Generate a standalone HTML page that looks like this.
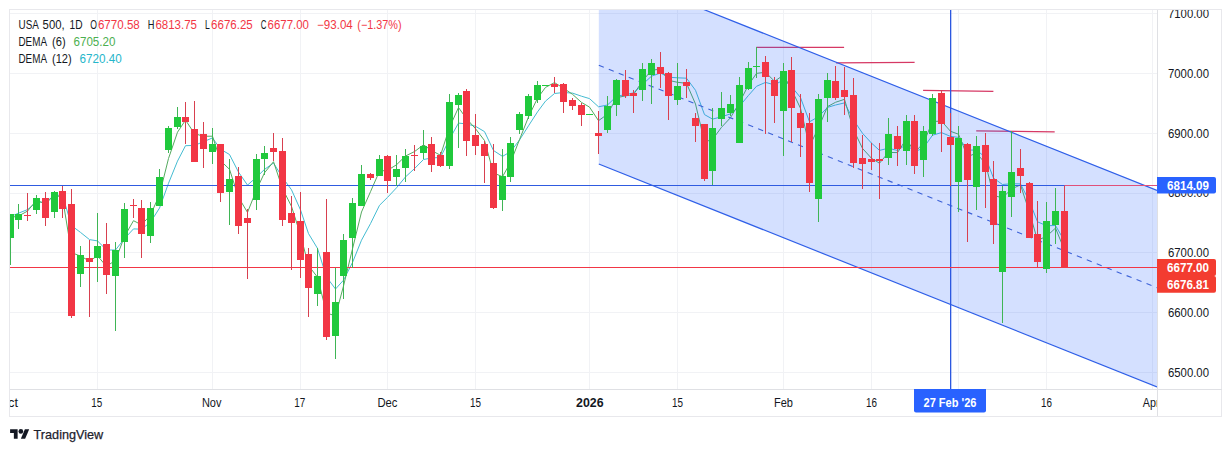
<!DOCTYPE html>
<html><head><meta charset="utf-8"><title>USA 500 chart</title>
<style>html,body{margin:0;padding:0;background:#fff;}body{width:1231px;height:452px;overflow:hidden;}svg{display:block;}text{font-family:"Liberation Sans",sans-serif;}</style></head><body>
<svg width="1231" height="452" viewBox="0 0 1231 452">
<rect x="0" y="0" width="1231" height="452" fill="#ffffff"/>
<defs><clipPath id="pane"><rect x="10" y="10" width="1147" height="379"/></clipPath><clipPath id="paxis"><rect x="1157" y="10" width="64" height="379"/></clipPath><clipPath id="taxis"><rect x="10" y="389" width="1147" height="27"/></clipPath></defs>
<g shape-rendering="crispEdges">
<rect x="10" y="13" width="1147" height="1" fill="#f1f2f5"/>
<rect x="10" y="73" width="1147" height="1" fill="#f1f2f5"/>
<rect x="10" y="133" width="1147" height="1" fill="#f1f2f5"/>
<rect x="10" y="193" width="1147" height="1" fill="#f1f2f5"/>
<rect x="10" y="252" width="1147" height="1" fill="#f1f2f5"/>
<rect x="10" y="312" width="1147" height="1" fill="#f1f2f5"/>
<rect x="10" y="372" width="1147" height="1" fill="#f1f2f5"/>
<rect x="97" y="10" width="1" height="379" fill="#f1f2f5"/>
<rect x="212" y="10" width="1" height="379" fill="#f1f2f5"/>
<rect x="300" y="10" width="1" height="379" fill="#f1f2f5"/>
<rect x="387" y="10" width="1" height="379" fill="#f1f2f5"/>
<rect x="475" y="10" width="1" height="379" fill="#f1f2f5"/>
<rect x="589" y="10" width="1" height="379" fill="#f1f2f5"/>
<rect x="677" y="10" width="1" height="379" fill="#f1f2f5"/>
<rect x="783" y="10" width="1" height="379" fill="#f1f2f5"/>
<rect x="871" y="10" width="1" height="379" fill="#f1f2f5"/>
<rect x="958" y="10" width="1" height="379" fill="#f1f2f5"/>
<rect x="1046" y="10" width="1" height="379" fill="#f1f2f5"/>
<rect x="1152" y="10" width="1" height="379" fill="#f1f2f5"/>
</g>
<g clip-path="url(#pane)">
<line x1="756.3" y1="47.4" x2="844.1" y2="47.4" stroke="#d63864" stroke-width="1.3" />
<line x1="836" y1="62.8" x2="914.6" y2="62.3" stroke="#d63864" stroke-width="1.3" />
<line x1="923.1" y1="90.3" x2="993.4" y2="91.3" stroke="#d63864" stroke-width="1.3" />
<line x1="976.2" y1="130.8" x2="1054.7" y2="131.8" stroke="#d63864" stroke-width="1.3" />
<polyline points="10.5,216.5 18.5,213.2 27.5,209.6 36.5,202.1 45.5,202.2 54.5,195.4 62.5,195.1 71.5,225.6 80.5,232.4 89.5,239.6 97.5,240.9 106.5,250.0 115.5,250.0 124.5,238.6 133.5,228.9 141.5,229.2 150.5,222.2 159.5,208.1 168.5,183.3 177.5,161.1 185.5,145.7 194.5,145.4 203.5,141.7 212.5,137.9 220.5,149.2 229.5,154.5 238.5,172.1 247.5,185.1 256.5,177.2 264.5,169.4 273.5,163.0 282.5,177.5 291.5,189.8 300.5,209.9 308.5,233.6 317.5,248.4 326.5,277.0 335.5,289.0 343.5,280.2 352.5,262.5 361.5,240.2 370.5,223.6 379.5,205.3 387.5,197.4 396.5,187.8 405.5,176.9 414.5,168.6 423.5,159.5 431.5,158.0 440.5,157.4 449.5,139.1 458.5,123.1 466.5,123.9 475.5,126.3 484.5,131.6 493.5,150.5 502.5,156.4 510.5,151.7 519.5,140.0 528.5,125.8 537.5,111.9 545.5,101.1 554.5,93.5 563.5,92.5 572.5,93.1 581.5,96.2 589.5,98.6 598.5,106.8 607.5,105.0 616.5,96.4 625.5,94.5 633.5,92.9 642.5,84.4 651.5,76.2 660.5,73.0 668.5,77.2 677.5,77.8 686.5,78.2 695.5,90.3 704.5,114.6 712.5,119.1 721.5,116.8 730.5,113.9 739.5,106.2 748.5,95.4 756.5,86.3 765.5,82.4 774.5,84.9 783.5,79.9 791.5,86.5 800.5,97.6 809.5,121.8 818.5,116.7 827.5,107.4 835.5,105.0 844.5,102.9 853.5,119.9 862.5,133.3 871.5,143.1 879.5,150.4 888.5,148.2 897.5,150.5 906.5,144.2 914.5,152.0 923.5,147.8 932.5,135.2 941.5,132.6 950.5,136.4 958.5,137.4 967.5,150.0 976.5,150.1 985.5,157.4 993.5,178.1 1002.5,184.5 1011.5,183.7 1020.5,183.9 1029.5,201.5 1037.5,221.8 1046.5,225.7 1055.5,225.5 1064.5,241.0" fill="none" stroke="#45bcd2" stroke-width="1" stroke-linejoin="round"/>
<polyline points="10.5,217.5 18.5,216.0 27.5,211.1 36.5,200.2 45.5,204.1 54.5,194.7 62.5,197.8 71.5,252.6 80.5,256.1 89.5,261.0 97.5,255.8 106.5,266.4 115.5,260.2 124.5,236.4 133.5,220.7 141.5,224.8 150.5,215.1 159.5,194.6 168.5,158.5 177.5,132.2 185.5,120.1 194.5,133.6 203.5,136.3 212.5,136.2 220.5,160.7 229.5,169.3 238.5,197.3 247.5,212.4 256.5,189.8 264.5,172.8 273.5,161.7 282.5,188.6 291.5,206.4 300.5,235.0 308.5,265.6 317.5,277.2 326.5,312.9 335.5,316.0 343.5,286.0 352.5,248.9 361.5,212.0 370.5,191.7 379.5,171.1 387.5,170.3 396.5,164.8 405.5,156.0 414.5,151.6 423.5,144.8 431.5,150.5 440.5,155.3 449.5,127.4 458.5,107.5 466.5,118.7 475.5,128.7 484.5,140.5 493.5,172.9 502.5,176.7 510.5,162.5 519.5,139.6 528.5,116.9 537.5,98.2 545.5,87.4 554.5,82.6 563.5,88.2 572.5,94.3 581.5,102.4 589.5,107.1 598.5,120.7 607.5,114.2 616.5,97.7 625.5,95.9 633.5,94.5 642.5,81.0 651.5,70.2 660.5,69.2 668.5,80.3 677.5,82.3 686.5,83.3 695.5,104.0 704.5,141.9 712.5,139.5 721.5,127.3 730.5,117.7 739.5,102.5 748.5,84.9 756.5,73.4 765.5,72.2 774.5,81.3 783.5,75.1 791.5,89.4 800.5,108.3 809.5,146.3 818.5,127.7 827.5,106.6 835.5,102.3 844.5,99.3 853.5,129.8 862.5,148.4 871.5,158.3 879.5,163.2 888.5,152.4 897.5,152.6 906.5,138.7 914.5,152.5 923.5,143.1 932.5,121.5 941.5,121.1 950.5,131.3 958.5,134.2 967.5,156.6 976.5,153.2 985.5,163.5 993.5,195.5 1002.5,197.8 1011.5,189.0 1020.5,184.9 1029.5,212.4 1037.5,240.3 1046.5,236.4 1055.5,228.1 1064.5,250.1" fill="none" stroke="#55aa60" stroke-width="1" stroke-linejoin="round"/>
<polygon points="598.8,-32.4 1157,190.0 1157,386.4 598.8,164.0" fill="rgba(41,98,255,0.2)"/>
<line x1="598.8" y1="-32.4" x2="1157" y2="190.34270000000004" stroke="#2f5fe8" stroke-width="1.2" />
<line x1="598.8" y1="164.0" x2="1157" y2="386.94270000000006" stroke="#2f5fe8" stroke-width="1.2" />
<line x1="598.8" y1="65.3" x2="1157" y2="287.7427" stroke="#3d62d8" stroke-width="1.1" stroke-dasharray="5.36 5.36"/>
<rect x="10" y="185" width="1147" height="1" fill="#2f5be0" shape-rendering="crispEdges"/>
<rect x="950" y="10" width="1.3" height="379" fill="#2c58e0"/>
<rect x="10" y="267" width="1147" height="1" fill="#f23645" shape-rendering="crispEdges"/>
<line x1="1064.5" y1="185.5" x2="1157" y2="185.5" stroke="#e0507a" stroke-width="1.0" />
<g shape-rendering="crispEdges">
<rect x="10" y="214" width="1" height="51" fill="#3fb555"/>
<rect x="7" y="214" width="7" height="24" fill="#20c93c"/>
<rect x="18" y="204" width="1" height="25" fill="#3fb555"/>
<rect x="15" y="214" width="7" height="6" fill="#20c93c"/>
<rect x="27" y="193" width="1" height="28" fill="#d8404f"/>
<rect x="24" y="215" width="7" height="1" fill="#f23645"/>
<rect x="36" y="195" width="1" height="19" fill="#3fb555"/>
<rect x="33" y="198" width="7" height="12" fill="#20c93c"/>
<rect x="45" y="192" width="1" height="34" fill="#d8404f"/>
<rect x="42" y="198" width="7" height="20" fill="#f23645"/>
<rect x="54" y="191" width="1" height="27" fill="#3fb555"/>
<rect x="51" y="192" width="7" height="20" fill="#20c93c"/>
<rect x="62" y="186" width="1" height="32" fill="#d8404f"/>
<rect x="59" y="191" width="7" height="18" fill="#f23645"/>
<rect x="71" y="189" width="1" height="129" fill="#d8404f"/>
<rect x="68" y="204" width="7" height="112" fill="#f23645"/>
<rect x="80" y="246" width="1" height="41" fill="#3fb555"/>
<rect x="77" y="255" width="7" height="19" fill="#20c93c"/>
<rect x="89" y="240" width="1" height="77" fill="#d8404f"/>
<rect x="86" y="258" width="7" height="4" fill="#f23645"/>
<rect x="97" y="213" width="1" height="69" fill="#3fb555"/>
<rect x="94" y="246" width="7" height="12" fill="#20c93c"/>
<rect x="106" y="223" width="1" height="71" fill="#d8404f"/>
<rect x="103" y="244" width="7" height="31" fill="#f23645"/>
<rect x="115" y="242" width="1" height="89" fill="#3fb555"/>
<rect x="112" y="250" width="7" height="26" fill="#20c93c"/>
<rect x="124" y="203" width="1" height="55" fill="#3fb555"/>
<rect x="121" y="209" width="7" height="33" fill="#20c93c"/>
<rect x="133" y="199" width="1" height="19" fill="#d8404f"/>
<rect x="130" y="205" width="7" height="1" fill="#f23645"/>
<rect x="141" y="200" width="1" height="58" fill="#d8404f"/>
<rect x="138" y="208" width="7" height="26" fill="#f23645"/>
<rect x="150" y="202" width="1" height="41" fill="#3fb555"/>
<rect x="147" y="208" width="7" height="28" fill="#20c93c"/>
<rect x="159" y="169" width="1" height="37" fill="#3fb555"/>
<rect x="156" y="177" width="7" height="29" fill="#20c93c"/>
<rect x="168" y="126" width="1" height="27" fill="#3fb555"/>
<rect x="165" y="128" width="7" height="22" fill="#20c93c"/>
<rect x="177" y="107" width="1" height="22" fill="#3fb555"/>
<rect x="174" y="117" width="7" height="10" fill="#20c93c"/>
<rect x="185" y="102" width="1" height="42" fill="#d8404f"/>
<rect x="182" y="117" width="7" height="5" fill="#f23645"/>
<rect x="194" y="101" width="1" height="61" fill="#d8404f"/>
<rect x="191" y="129" width="7" height="33" fill="#f23645"/>
<rect x="203" y="122" width="1" height="46" fill="#d8404f"/>
<rect x="200" y="134" width="7" height="15" fill="#f23645"/>
<rect x="212" y="128" width="1" height="36" fill="#3fb555"/>
<rect x="209" y="144" width="7" height="8" fill="#20c93c"/>
<rect x="220" y="144" width="1" height="58" fill="#d8404f"/>
<rect x="217" y="144" width="7" height="49" fill="#f23645"/>
<rect x="229" y="159" width="1" height="66" fill="#3fb555"/>
<rect x="226" y="179" width="7" height="13" fill="#20c93c"/>
<rect x="238" y="167" width="1" height="67" fill="#d8404f"/>
<rect x="235" y="176" width="7" height="50" fill="#f23645"/>
<rect x="247" y="209" width="1" height="70" fill="#d8404f"/>
<rect x="244" y="218" width="7" height="5" fill="#f23645"/>
<rect x="256" y="154" width="1" height="56" fill="#3fb555"/>
<rect x="253" y="159" width="7" height="41" fill="#20c93c"/>
<rect x="264" y="146" width="1" height="29" fill="#3fb555"/>
<rect x="261" y="153" width="7" height="6" fill="#20c93c"/>
<rect x="273" y="133" width="1" height="28" fill="#d8404f"/>
<rect x="270" y="148" width="7" height="4" fill="#f23645"/>
<rect x="282" y="138" width="1" height="88" fill="#d8404f"/>
<rect x="279" y="151" width="7" height="69" fill="#f23645"/>
<rect x="291" y="196" width="1" height="74" fill="#d8404f"/>
<rect x="288" y="213" width="7" height="10" fill="#f23645"/>
<rect x="300" y="192" width="1" height="86" fill="#d8404f"/>
<rect x="297" y="221" width="7" height="39" fill="#f23645"/>
<rect x="308" y="248" width="1" height="69" fill="#d8404f"/>
<rect x="305" y="254" width="7" height="34" fill="#f23645"/>
<rect x="317" y="248" width="1" height="58" fill="#3fb555"/>
<rect x="314" y="276" width="7" height="18" fill="#20c93c"/>
<rect x="326" y="199" width="1" height="141" fill="#d8404f"/>
<rect x="323" y="252" width="7" height="85" fill="#f23645"/>
<rect x="335" y="268" width="1" height="91" fill="#3fb555"/>
<rect x="332" y="302" width="7" height="34" fill="#20c93c"/>
<rect x="343" y="234" width="1" height="65" fill="#3fb555"/>
<rect x="340" y="240" width="7" height="36" fill="#20c93c"/>
<rect x="352" y="198" width="1" height="70" fill="#3fb555"/>
<rect x="349" y="203" width="7" height="35" fill="#20c93c"/>
<rect x="361" y="165" width="1" height="41" fill="#3fb555"/>
<rect x="358" y="174" width="7" height="32" fill="#20c93c"/>
<rect x="370" y="173" width="1" height="7" fill="#d8404f"/>
<rect x="367" y="174" width="7" height="4" fill="#f23645"/>
<rect x="379" y="155" width="1" height="21" fill="#3fb555"/>
<rect x="376" y="159" width="7" height="17" fill="#20c93c"/>
<rect x="387" y="155" width="1" height="38" fill="#d8404f"/>
<rect x="384" y="156" width="7" height="25" fill="#f23645"/>
<rect x="396" y="155" width="1" height="31" fill="#3fb555"/>
<rect x="393" y="169" width="7" height="8" fill="#20c93c"/>
<rect x="405" y="149" width="1" height="33" fill="#3fb555"/>
<rect x="402" y="156" width="7" height="12" fill="#20c93c"/>
<rect x="414" y="145" width="1" height="26" fill="#d8404f"/>
<rect x="411" y="155" width="7" height="1" fill="#f23645"/>
<rect x="423" y="130" width="1" height="29" fill="#3fb555"/>
<rect x="420" y="146" width="7" height="7" fill="#20c93c"/>
<rect x="431" y="137" width="1" height="35" fill="#d8404f"/>
<rect x="428" y="144" width="7" height="21" fill="#f23645"/>
<rect x="440" y="152" width="1" height="15" fill="#d8404f"/>
<rect x="437" y="155" width="7" height="11" fill="#f23645"/>
<rect x="449" y="94" width="1" height="75" fill="#3fb555"/>
<rect x="446" y="102" width="7" height="64" fill="#20c93c"/>
<rect x="458" y="93" width="1" height="55" fill="#3fb555"/>
<rect x="455" y="95" width="7" height="10" fill="#20c93c"/>
<rect x="466" y="89" width="1" height="67" fill="#d8404f"/>
<rect x="463" y="91" width="7" height="50" fill="#f23645"/>
<rect x="475" y="114" width="1" height="41" fill="#d8404f"/>
<rect x="472" y="135" width="7" height="11" fill="#f23645"/>
<rect x="484" y="141" width="1" height="42" fill="#d8404f"/>
<rect x="481" y="144" width="7" height="12" fill="#f23645"/>
<rect x="493" y="144" width="1" height="65" fill="#d8404f"/>
<rect x="490" y="163" width="7" height="45" fill="#f23645"/>
<rect x="502" y="149" width="1" height="62" fill="#3fb555"/>
<rect x="499" y="176" width="7" height="24" fill="#20c93c"/>
<rect x="510" y="137" width="1" height="45" fill="#3fb555"/>
<rect x="507" y="143" width="7" height="34" fill="#20c93c"/>
<rect x="519" y="112" width="1" height="22" fill="#3fb555"/>
<rect x="516" y="114" width="7" height="16" fill="#20c93c"/>
<rect x="528" y="94" width="1" height="25" fill="#3fb555"/>
<rect x="525" y="96" width="7" height="20" fill="#20c93c"/>
<rect x="537" y="81" width="1" height="22" fill="#3fb555"/>
<rect x="534" y="85" width="7" height="15" fill="#20c93c"/>
<rect x="545" y="85" width="1" height="1" fill="#3fb555"/>
<rect x="542" y="85" width="7" height="1" fill="#20c93c"/>
<rect x="554" y="77" width="1" height="16" fill="#d8404f"/>
<rect x="551" y="84" width="7" height="3" fill="#f23645"/>
<rect x="563" y="83" width="1" height="30" fill="#d8404f"/>
<rect x="560" y="84" width="7" height="18" fill="#f23645"/>
<rect x="572" y="98" width="1" height="12" fill="#d8404f"/>
<rect x="569" y="100" width="7" height="6" fill="#f23645"/>
<rect x="581" y="103" width="1" height="23" fill="#d8404f"/>
<rect x="578" y="105" width="7" height="10" fill="#f23645"/>
<rect x="589" y="114" width="1" height="1" fill="#3fb555"/>
<rect x="586" y="114" width="7" height="1" fill="#20c93c"/>
<rect x="598" y="111" width="1" height="43" fill="#d8404f"/>
<rect x="595" y="133" width="7" height="3" fill="#f23645"/>
<rect x="607" y="96" width="1" height="37" fill="#3fb555"/>
<rect x="604" y="106" width="7" height="24" fill="#20c93c"/>
<rect x="616" y="79" width="1" height="37" fill="#3fb555"/>
<rect x="613" y="80" width="7" height="25" fill="#20c93c"/>
<rect x="625" y="70" width="1" height="28" fill="#d8404f"/>
<rect x="622" y="80" width="7" height="16" fill="#f23645"/>
<rect x="633" y="90" width="1" height="23" fill="#d8404f"/>
<rect x="630" y="93" width="7" height="3" fill="#f23645"/>
<rect x="642" y="63" width="1" height="38" fill="#3fb555"/>
<rect x="639" y="69" width="7" height="21" fill="#20c93c"/>
<rect x="651" y="59" width="1" height="45" fill="#3fb555"/>
<rect x="648" y="63" width="7" height="12" fill="#20c93c"/>
<rect x="660" y="52" width="1" height="36" fill="#d8404f"/>
<rect x="657" y="67" width="7" height="7" fill="#f23645"/>
<rect x="668" y="72" width="1" height="48" fill="#d8404f"/>
<rect x="665" y="73" width="7" height="23" fill="#f23645"/>
<rect x="677" y="63" width="1" height="42" fill="#3fb555"/>
<rect x="674" y="86" width="7" height="14" fill="#20c93c"/>
<rect x="686" y="69" width="1" height="29" fill="#d8404f"/>
<rect x="683" y="82" width="7" height="4" fill="#f23645"/>
<rect x="695" y="113" width="1" height="29" fill="#d8404f"/>
<rect x="692" y="118" width="7" height="8" fill="#f23645"/>
<rect x="704" y="124" width="1" height="57" fill="#d8404f"/>
<rect x="701" y="124" width="7" height="55" fill="#f23645"/>
<rect x="712" y="108" width="1" height="77" fill="#3fb555"/>
<rect x="709" y="128" width="7" height="43" fill="#20c93c"/>
<rect x="721" y="92" width="1" height="34" fill="#3fb555"/>
<rect x="718" y="108" width="7" height="11" fill="#20c93c"/>
<rect x="730" y="95" width="1" height="21" fill="#3fb555"/>
<rect x="727" y="104" width="7" height="9" fill="#20c93c"/>
<rect x="739" y="77" width="1" height="66" fill="#3fb555"/>
<rect x="736" y="85" width="7" height="58" fill="#20c93c"/>
<rect x="748" y="62" width="1" height="28" fill="#3fb555"/>
<rect x="745" y="68" width="7" height="21" fill="#20c93c"/>
<rect x="756" y="47" width="1" height="31" fill="#3fb555"/>
<rect x="753" y="66" width="7" height="1" fill="#20c93c"/>
<rect x="765" y="56" width="1" height="78" fill="#d8404f"/>
<rect x="762" y="62" width="7" height="15" fill="#f23645"/>
<rect x="774" y="77" width="1" height="46" fill="#d8404f"/>
<rect x="771" y="80" width="7" height="16" fill="#f23645"/>
<rect x="783" y="63" width="1" height="93" fill="#3fb555"/>
<rect x="780" y="71" width="7" height="40" fill="#20c93c"/>
<rect x="791" y="57" width="1" height="85" fill="#d8404f"/>
<rect x="788" y="70" width="7" height="38" fill="#f23645"/>
<rect x="800" y="94" width="1" height="63" fill="#d8404f"/>
<rect x="797" y="113" width="7" height="15" fill="#f23645"/>
<rect x="809" y="113" width="1" height="79" fill="#d8404f"/>
<rect x="806" y="123" width="7" height="60" fill="#f23645"/>
<rect x="818" y="94" width="1" height="128" fill="#3fb555"/>
<rect x="815" y="99" width="7" height="100" fill="#20c93c"/>
<rect x="827" y="73" width="1" height="49" fill="#3fb555"/>
<rect x="824" y="80" width="7" height="18" fill="#20c93c"/>
<rect x="835" y="66" width="1" height="34" fill="#d8404f"/>
<rect x="832" y="81" width="7" height="17" fill="#f23645"/>
<rect x="844" y="67" width="1" height="48" fill="#d8404f"/>
<rect x="841" y="90" width="7" height="7" fill="#f23645"/>
<rect x="853" y="78" width="1" height="90" fill="#d8404f"/>
<rect x="850" y="95" width="7" height="68" fill="#f23645"/>
<rect x="862" y="135" width="1" height="54" fill="#d8404f"/>
<rect x="859" y="158" width="7" height="6" fill="#f23645"/>
<rect x="871" y="143" width="1" height="27" fill="#d8404f"/>
<rect x="868" y="159" width="7" height="3" fill="#f23645"/>
<rect x="879" y="143" width="1" height="56" fill="#d8404f"/>
<rect x="876" y="159" width="7" height="2" fill="#f23645"/>
<rect x="888" y="118" width="1" height="47" fill="#3fb555"/>
<rect x="885" y="134" width="7" height="24" fill="#20c93c"/>
<rect x="897" y="126" width="1" height="40" fill="#d8404f"/>
<rect x="894" y="136" width="7" height="13" fill="#f23645"/>
<rect x="906" y="115" width="1" height="50" fill="#3fb555"/>
<rect x="903" y="121" width="7" height="30" fill="#20c93c"/>
<rect x="914" y="115" width="1" height="59" fill="#d8404f"/>
<rect x="911" y="121" width="7" height="45" fill="#f23645"/>
<rect x="923" y="126" width="1" height="51" fill="#3fb555"/>
<rect x="920" y="131" width="7" height="29" fill="#20c93c"/>
<rect x="932" y="94" width="1" height="42" fill="#3fb555"/>
<rect x="929" y="98" width="7" height="36" fill="#20c93c"/>
<rect x="941" y="90" width="1" height="62" fill="#d8404f"/>
<rect x="938" y="93" width="7" height="31" fill="#f23645"/>
<rect x="950" y="113" width="1" height="73" fill="#d8404f"/>
<rect x="947" y="137" width="7" height="8" fill="#f23645"/>
<rect x="958" y="126" width="1" height="86" fill="#3fb555"/>
<rect x="955" y="138" width="7" height="44" fill="#20c93c"/>
<rect x="967" y="143" width="1" height="99" fill="#d8404f"/>
<rect x="964" y="144" width="7" height="36" fill="#f23645"/>
<rect x="976" y="136" width="1" height="74" fill="#3fb555"/>
<rect x="973" y="146" width="7" height="41" fill="#20c93c"/>
<rect x="985" y="133" width="1" height="75" fill="#d8404f"/>
<rect x="982" y="145" width="7" height="27" fill="#f23645"/>
<rect x="993" y="161" width="1" height="83" fill="#d8404f"/>
<rect x="990" y="179" width="7" height="46" fill="#f23645"/>
<rect x="1002" y="186" width="1" height="137" fill="#3fb555"/>
<rect x="999" y="191" width="7" height="81" fill="#20c93c"/>
<rect x="1011" y="131" width="1" height="86" fill="#3fb555"/>
<rect x="1008" y="172" width="7" height="25" fill="#20c93c"/>
<rect x="1020" y="149" width="1" height="44" fill="#d8404f"/>
<rect x="1017" y="168" width="7" height="8" fill="#f23645"/>
<rect x="1029" y="182" width="1" height="56" fill="#d8404f"/>
<rect x="1026" y="183" width="7" height="55" fill="#f23645"/>
<rect x="1037" y="201" width="1" height="66" fill="#d8404f"/>
<rect x="1034" y="234" width="7" height="28" fill="#f23645"/>
<rect x="1046" y="202" width="1" height="71" fill="#3fb555"/>
<rect x="1043" y="221" width="7" height="48" fill="#20c93c"/>
<rect x="1055" y="188" width="1" height="56" fill="#3fb555"/>
<rect x="1052" y="211" width="7" height="14" fill="#20c93c"/>
<rect x="1064" y="186" width="1" height="81" fill="#d8404f"/>
<rect x="1061" y="211" width="7" height="56" fill="#f23645"/>
</g>
</g>
<g shape-rendering="crispEdges">
<rect x="9" y="9" width="1213" height="1" fill="#e8e8ec"/>
<rect x="9" y="9" width="1" height="408" fill="#e8e8ec"/>
<rect x="1221" y="9" width="1" height="408" fill="#e8e8ec"/>
<rect x="9" y="416" width="1213" height="1" fill="#e8e8ec"/>
<rect x="10" y="389" width="1212" height="1" fill="#dfe0e4"/>
<rect x="1157" y="10" width="1" height="406" fill="#dfe0e4"/>
</g>
<g clip-path="url(#paxis)">
<text x="1168" y="17.9" font-size="12" font-weight="normal" fill="#131722" text-anchor="start" textLength="41" lengthAdjust="spacingAndGlyphs" >7100.00</text>
<text x="1168" y="77.8" font-size="12" font-weight="normal" fill="#131722" text-anchor="start" textLength="41" lengthAdjust="spacingAndGlyphs" >7000.00</text>
<text x="1168" y="137.7" font-size="12" font-weight="normal" fill="#131722" text-anchor="start" textLength="41" lengthAdjust="spacingAndGlyphs" >6900.00</text>
<text x="1168" y="197.4" font-size="12" font-weight="normal" fill="#131722" text-anchor="start" textLength="41" lengthAdjust="spacingAndGlyphs" >6800.00</text>
<text x="1168" y="257.1" font-size="12" font-weight="normal" fill="#131722" text-anchor="start" textLength="41" lengthAdjust="spacingAndGlyphs" >6700.00</text>
<text x="1168" y="316.9" font-size="12" font-weight="normal" fill="#131722" text-anchor="start" textLength="41" lengthAdjust="spacingAndGlyphs" >6600.00</text>
<text x="1168" y="376.8" font-size="12" font-weight="normal" fill="#131722" text-anchor="start" textLength="41" lengthAdjust="spacingAndGlyphs" >6500.00</text>
</g>
<path d="M1157,177 h57 a2,2 0 0 1 2,2 v12.5 a2,2 0 0 1 -2,2 h-57 z" fill="#2962ff"/>
<text x="1167" y="189.55" font-size="12" font-weight="bold" fill="#ffffff" text-anchor="start" textLength="42" lengthAdjust="spacingAndGlyphs" >6814.09</text>
<path d="M1157,259 h57 a2,2 0 0 1 2,2 v13 a2,2 0 0 1 -2,2 h-57 z" fill="#f33c30"/>
<text x="1167" y="271.8" font-size="12" font-weight="bold" fill="#ffffff" text-anchor="start" textLength="42" lengthAdjust="spacingAndGlyphs" >6677.00</text>
<path d="M1157,276 h57 a2,2 0 0 1 2,2 v12.7 a2,2 0 0 1 -2,2 h-57 z" fill="#f33c30"/>
<text x="1167" y="288.65000000000003" font-size="12" font-weight="bold" fill="#ffffff" text-anchor="start" textLength="42" lengthAdjust="spacingAndGlyphs" >6676.81</text>
<g clip-path="url(#taxis)">
<text x="-1.9" y="407" font-size="12" font-weight="normal" fill="#131722" text-anchor="start" textLength="20" lengthAdjust="spacingAndGlyphs" >Oct</text>
<text x="96.7" y="407" font-size="12" font-weight="normal" fill="#131722" text-anchor="middle" textLength="11" lengthAdjust="spacingAndGlyphs" >15</text>
<text x="211.7" y="407" font-size="12" font-weight="normal" fill="#131722" text-anchor="middle" textLength="19.5" lengthAdjust="spacingAndGlyphs" >Nov</text>
<text x="299.7" y="407" font-size="12" font-weight="normal" fill="#131722" text-anchor="middle" textLength="11" lengthAdjust="spacingAndGlyphs" >17</text>
<text x="387.5" y="407" font-size="12" font-weight="normal" fill="#131722" text-anchor="middle" textLength="20" lengthAdjust="spacingAndGlyphs" >Dec</text>
<text x="475.5" y="407" font-size="12" font-weight="normal" fill="#131722" text-anchor="middle" textLength="11" lengthAdjust="spacingAndGlyphs" >15</text>
<text x="677.5" y="407" font-size="12" font-weight="normal" fill="#131722" text-anchor="middle" textLength="11" lengthAdjust="spacingAndGlyphs" >15</text>
<text x="783.5" y="407" font-size="12" font-weight="normal" fill="#131722" text-anchor="middle" textLength="19" lengthAdjust="spacingAndGlyphs" >Feb</text>
<text x="871.5" y="407" font-size="12" font-weight="normal" fill="#131722" text-anchor="middle" textLength="11" lengthAdjust="spacingAndGlyphs" >16</text>
<text x="1046.5" y="407" font-size="12" font-weight="normal" fill="#131722" text-anchor="middle" textLength="11" lengthAdjust="spacingAndGlyphs" >16</text>
<text x="589.8" y="407" font-size="12" font-weight="bold" fill="#131722" text-anchor="middle" textLength="27.5" lengthAdjust="spacingAndGlyphs" >2026</text>
<text x="1142.8" y="407" font-size="12" font-weight="normal" fill="#131722" text-anchor="start" textLength="16.7" lengthAdjust="spacingAndGlyphs" >Apr</text>
</g>
<path d="M914,389 h72 v21.5 a2,2 0 0 1 -2,2 h-68 a2,2 0 0 1 -2,-2 z" fill="#2962ff"/>
<text x="950" y="407" font-size="12" font-weight="bold" fill="#ffffff" text-anchor="middle" textLength="53" lengthAdjust="spacingAndGlyphs" >27 Feb '26</text>
<text x="18.5" y="29" font-size="12" font-weight="normal" fill="#131722" text-anchor="start" textLength="20.3" lengthAdjust="spacingAndGlyphs" >USA</text>
<text x="42.6" y="29" font-size="12" font-weight="normal" fill="#131722" text-anchor="start" textLength="22" lengthAdjust="spacingAndGlyphs" >500,</text>
<text x="69.5" y="29" font-size="12" font-weight="normal" fill="#131722" text-anchor="start" textLength="13" lengthAdjust="spacingAndGlyphs" >1D</text>
<text x="90.3" y="29" font-size="12" font-weight="normal" fill="#131722" text-anchor="start" textLength="6.7" lengthAdjust="spacingAndGlyphs" >O</text>
<text x="97.9" y="29" font-size="12" font-weight="normal" fill="#f23645" text-anchor="start" textLength="41.9" lengthAdjust="spacingAndGlyphs" >6770.58</text>
<text x="147.8" y="29" font-size="12" font-weight="normal" fill="#131722" text-anchor="start" textLength="6.7" lengthAdjust="spacingAndGlyphs" >H</text>
<text x="155.4" y="29" font-size="12" font-weight="normal" fill="#f23645" text-anchor="start" textLength="41.6" lengthAdjust="spacingAndGlyphs" >6813.75</text>
<text x="205" y="29" font-size="12" font-weight="normal" fill="#131722" text-anchor="start" textLength="4.8" lengthAdjust="spacingAndGlyphs" >L</text>
<text x="211.1" y="29" font-size="12" font-weight="normal" fill="#f23645" text-anchor="start" textLength="41.6" lengthAdjust="spacingAndGlyphs" >6676.25</text>
<text x="260.8" y="29" font-size="12" font-weight="normal" fill="#131722" text-anchor="start" textLength="5.7" lengthAdjust="spacingAndGlyphs" >C</text>
<text x="267.6" y="29" font-size="12" font-weight="normal" fill="#f23645" text-anchor="start" textLength="41.4" lengthAdjust="spacingAndGlyphs" >6677.00</text>
<text x="317.1" y="29" font-size="12" font-weight="normal" fill="#f23645" text-anchor="start" textLength="35.7" lengthAdjust="spacingAndGlyphs" >−93.04</text>
<text x="357.3" y="29" font-size="12" font-weight="normal" fill="#f23645" text-anchor="start" textLength="44.3" lengthAdjust="spacingAndGlyphs" >(−1.37%)</text>
<text x="18.5" y="46" font-size="12" font-weight="normal" fill="#131722" text-anchor="start" textLength="28.5" lengthAdjust="spacingAndGlyphs" >DEMA</text>
<text x="52" y="46" font-size="12" font-weight="normal" fill="#131722" text-anchor="start" textLength="13.6" lengthAdjust="spacingAndGlyphs" >(6)</text>
<text x="73.5" y="46" font-size="12" font-weight="normal" fill="#4caf50" text-anchor="start" textLength="41.9" lengthAdjust="spacingAndGlyphs" >6705.20</text>
<text x="18.5" y="63" font-size="12" font-weight="normal" fill="#131722" text-anchor="start" textLength="28.5" lengthAdjust="spacingAndGlyphs" >DEMA</text>
<text x="52" y="63" font-size="12" font-weight="normal" fill="#131722" text-anchor="start" textLength="19.7" lengthAdjust="spacingAndGlyphs" >(12)</text>
<text x="79.6" y="63" font-size="12" font-weight="normal" fill="#26b6ca" text-anchor="start" textLength="42.2" lengthAdjust="spacingAndGlyphs" >6720.40</text>
<g transform="translate(10.1,427) scale(0.538)" fill="#131722"><path d="M14 22H7V11H0V4h14v18z"/><circle cx="20" cy="8.2" r="4.4"/><path d="M28 22h-8l7.5-18h8L28 22z"/></g>
<text x="33.6" y="439" font-size="13" font-weight="normal" fill="#1e222d" text-anchor="start" textLength="69.6" lengthAdjust="spacingAndGlyphs" stroke="#1e222d" stroke-width="0.25">TradingView</text>
</svg></body></html>
